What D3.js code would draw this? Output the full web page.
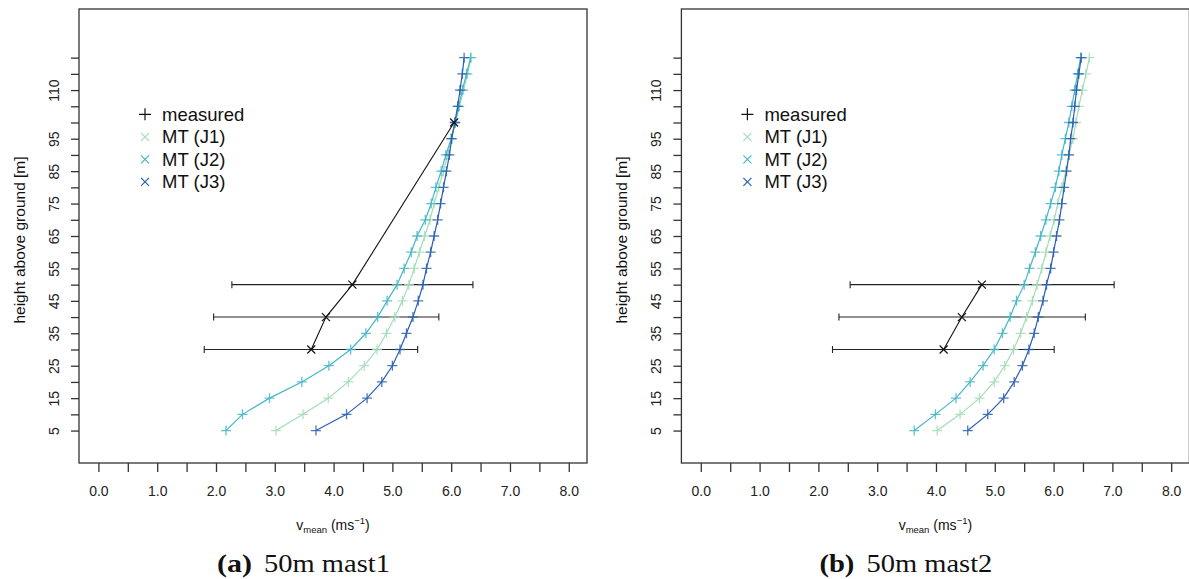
<!DOCTYPE html>
<html>
<head>
<meta charset="utf-8">
<script src="https://cdn.jsdelivr.net/npm/d3@7"></script>
<style>
  body { margin: 0; background: #fff; }
  text { font-family: "Liberation Sans", Arial, sans-serif; }
</style>
</head>
<body>
<svg id="chart" width="1189" height="579"></svg>
<script>
// model heights (m)
var heights = [5, 10, 15, 20, 25, 30, 35, 40, 45, 50, 55, 60, 65, 70, 75, 80, 85, 90, 95, 100, 105, 110, 115, 120];

// mast1 model profiles (m/s)
var mast1J1 = [3.02, 3.48, 3.91, 4.25, 4.52, 4.74, 4.90, 5.04, 5.17, 5.28, 5.37, 5.46, 5.55, 5.64, 5.71, 5.79, 5.87, 5.94, 6.00, 6.07, 6.14, 6.21, 6.28, 6.34];
var mast1J2 = [2.17, 2.45, 2.91, 3.46, 3.92, 4.29, 4.55, 4.75, 4.91, 5.08, 5.20, 5.32, 5.42, 5.56, 5.66, 5.74, 5.83, 5.91, 6.00, 6.07, 6.13, 6.19, 6.26, 6.33];
var mast1J3 = [3.70, 4.22, 4.57, 4.82, 5.00, 5.13, 5.24, 5.35, 5.44, 5.52, 5.58, 5.65, 5.71, 5.77, 5.82, 5.87, 5.92, 5.97, 6.01, 6.06, 6.11, 6.15, 6.19, 6.22];

// mast1 measurements
var mast1MeasH = [30, 40, 50, 100];
var mast1Meas = [3.62, 3.87, 4.32, 6.05];
var mast1Lo = [1.80, 1.96, 2.27, null];
var mast1Hi = [5.43, 5.79, 6.37, null];

// mast2 model profiles (m/s)
var mast2J1 = [4.02, 4.41, 4.74, 4.99, 5.17, 5.32, 5.44, 5.54, 5.64, 5.72, 5.80, 5.87, 5.94, 6.01, 6.07, 6.14, 6.21, 6.26, 6.33, 6.38, 6.43, 6.49, 6.55, 6.61];
var mast2J2 = [3.63, 3.99, 4.34, 4.58, 4.80, 4.99, 5.13, 5.26, 5.37, 5.50, 5.59, 5.69, 5.78, 5.87, 5.95, 6.03, 6.09, 6.14, 6.20, 6.26, 6.31, 6.36, 6.41, 6.46];
var mast2J3 = [4.54, 4.88, 5.15, 5.33, 5.47, 5.58, 5.67, 5.74, 5.82, 5.88, 5.95, 6.00, 6.05, 6.10, 6.14, 6.18, 6.22, 6.26, 6.29, 6.33, 6.36, 6.39, 6.43, 6.47];

// mast2 measurements
var mast2MeasH = [30, 40, 50];
var mast2Meas = [4.13, 4.44, 4.78];
var mast2Lo = [2.24, 2.35, 2.54];
var mast2Hi = [6.01, 6.54, 7.03];

// axis ticks and labels
var yTicks = d3.range(5, 121, 5);
var yLabels = [5, 15, 25, 35, 45, 55, 65, 75, 85, 95, 110];
var xTicks = d3.range(0, 8.01, 0.5);
var legendLabels = ['measured', 'MT (J1)', 'MT (J2)', 'MT (J3)'];
var seriesColors = ['#a3dcb8', '#45b6c8', '#2a60b0'];

var W = 508, H = 454;
var svg = d3.select('#chart');

var plusPath = 'M-5,0H5M0,-5V5';
var crossPath = 'M-4,-4L4,4M-4,4L4,-4';

function drawPanel(left, model, measH, meas, lo, hi, tag, caption) {
    var g = svg.append('g').attr('transform', 'translate(' + left + ',9)');
    var x = d3.scaleLinear().domain([-0.33, 8.31]).range([0, W]);
    var y = d3.scaleLinear().domain([-5, 135]).range([H, 0]);

    // box
    g.append('rect').attr('x', 0).attr('y', 0).attr('width', W).attr('height', H)
        .attr('fill', 'none').attr('stroke', '#333').attr('stroke-width', 1.3);

    // y axis
    var ya = g.append('g').call(d3.axisLeft(y).tickValues(yTicks).tickSize(8)
        .tickFormat(function(d) { return yLabels.indexOf(d) >= 0 ? d : ''; }));
    ya.select('.domain').remove();
    ya.selectAll('line').attr('stroke', '#333').attr('stroke-width', 1.3);
    ya.selectAll('text')
        .attr('x', 0).attr('dy', null)
        .attr('transform', function(d) { return 'translate(-25,0) rotate(-90)'; })
        .attr('text-anchor', 'middle').attr('dominant-baseline', 'central')
        .style('font-size', '14px').attr('fill', '#222');

    // x axis
    var xa = g.append('g').attr('transform', 'translate(0,' + H + ')')
        .call(d3.axisBottom(x).tickValues(xTicks).tickSize(9)
            .tickFormat(function(d) { return d % 1 === 0 ? d.toFixed(1) : ''; }));
    xa.select('.domain').remove();
    xa.selectAll('line').attr('stroke', '#333').attr('stroke-width', 1.3);
    xa.selectAll('text').attr('y', 28).attr('dy', null)
        .attr('dominant-baseline', 'central')
        .style('font-size', '14px').attr('fill', '#222');

    // axis titles
    svg.append('text')
        .attr('transform', 'translate(' + (left - 60) + ',240) rotate(-90)')
        .attr('text-anchor', 'middle').attr('dominant-baseline', 'central')
        .style('font-size', '15.5px').attr('fill', '#111')
        .text('height above ground [m]');

    var xt = svg.append('text').attr('x', left + W / 2).attr('y', 530)
        .attr('text-anchor', 'middle').style('font-size', '14px').attr('fill', '#111');
    xt.append('tspan').text('v');
    xt.append('tspan').attr('dy', 3).style('font-size', '9.5px').text('mean');
    xt.append('tspan').attr('dy', -3).text(' (ms');
    xt.append('tspan').attr('dy', -6).style('font-size', '9.5px').text('\u22121');
    xt.append('tspan').attr('dy', 6).text(')');

    // error bars
    measH.forEach(function(h, i) {
        if (lo[i] === null) return;
        var yy = y(h);
        g.append('line').attr('x1', x(lo[i])).attr('x2', x(hi[i]))
            .attr('y1', yy).attr('y2', yy).attr('stroke', '#222').attr('stroke-width', 1.1);
        [lo[i], hi[i]].forEach(function(v) {
            g.append('line').attr('x1', x(v)).attr('x2', x(v))
                .attr('y1', yy - 3.5).attr('y2', yy + 3.5).attr('stroke', '#222').attr('stroke-width', 1.1);
        });
    });

    // model curves
    var line = d3.line().x(function(d) { return x(d[1]); }).y(function(d) { return y(d[0]); });
    model.forEach(function(vals, k) {
        var pts = heights.map(function(h, i) { return [h, vals[i]]; });
        g.append('path').datum(pts).attr('d', line)
            .attr('fill', 'none').attr('stroke', seriesColors[k]).attr('stroke-width', 1.2);
        g.selectAll('.m' + k).data(pts).enter().append('path')
            .attr('class', 'm' + k)
            .attr('transform', function(d) { return 'translate(' + x(d[1]) + ',' + y(d[0]) + ')'; })
            .attr('d', plusPath).attr('stroke', seriesColors[k]).attr('stroke-width', 1.3)
            .attr('stroke-opacity', 0.85).attr('fill', 'none');
    });

    // measured line and markers
    var mpts = measH.map(function(h, i) { return [h, meas[i]]; });
    g.append('path').datum(mpts).attr('d', line)
        .attr('fill', 'none').attr('stroke', '#111').attr('stroke-width', 1.1);
    g.selectAll('.meas').data(mpts).enter().append('path')
        .attr('class', 'meas')
        .attr('transform', function(d) { return 'translate(' + x(d[1]) + ',' + y(d[0]) + ')'; })
        .attr('d', crossPath).attr('stroke', '#111').attr('stroke-width', 1.2);

    // legend
    legendLabels.forEach(function(lab, i) {
        var ly = 114.3 - 9 + i * 22.5;
        g.append('path').attr('transform', 'translate(66,' + ly + ')')
            .attr('d', i === 0 ? 'M-6,0H6M0,-6V6' : crossPath)
            .attr('stroke', i === 0 ? '#111' : seriesColors[i - 1]).attr('stroke-width', 1.2);
        g.append('text').attr('x', 83).attr('y', ly).attr('dominant-baseline', 'central')
            .style('font-size', '18.5px').attr('fill', '#111').text(lab);
    });

    // caption
    svg.append('text').attr('x', left + 138).attr('y', 572)
        .attr('textLength', 35).attr('lengthAdjust', 'spacingAndGlyphs')
        .style('font-family', '"Liberation Serif", serif').style('font-weight', 'bold')
        .style('font-size', '25px').attr('fill', '#111').text(tag);
    svg.append('text').attr('x', left + 185).attr('y', 572)
        .attr('textLength', 126).attr('lengthAdjust', 'spacingAndGlyphs')
        .style('font-family', '"Liberation Serif", serif')
        .style('font-size', '25px').attr('fill', '#111').text(caption);
}

drawPanel(79, [mast1J1, mast1J2, mast1J3], mast1MeasH, mast1Meas, mast1Lo, mast1Hi, '(a)', '50m mast1');
drawPanel(681.4, [mast2J1, mast2J2, mast2J3], mast2MeasH, mast2Meas, mast2Lo, mast2Hi, '(b)', '50m mast2');
</script>
</body>
</html>
